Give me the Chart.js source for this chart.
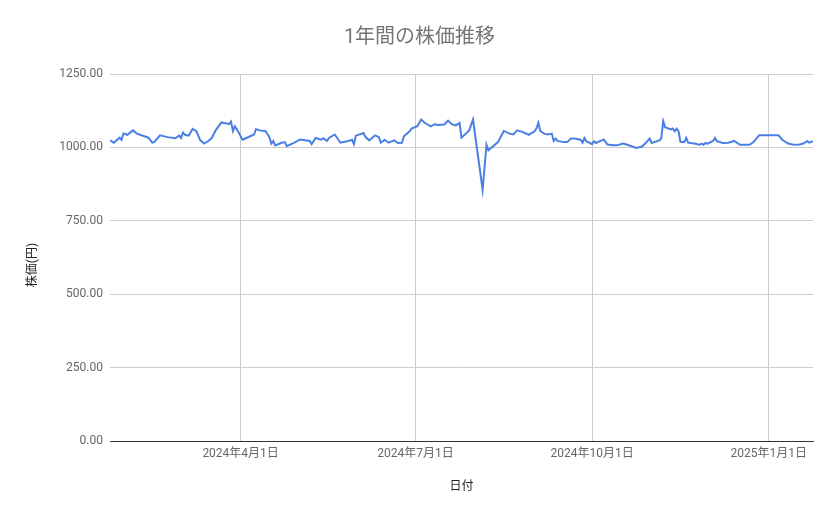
<!DOCTYPE html>
<html>
<head>
<meta charset="utf-8">
<script src="https://cdn.jsdelivr.net/npm/chart.js@4"></script>
<style>
  html, body { margin: 0; padding: 0; background: #fff; }
  #wrap { width: 839px; height: 519px; }
</style>
</head>
<body>
<div id="wrap"><canvas id="myChart"></canvas></div>
<script>
// data
const dates = [
  '2024-01-24', '2024-01-26', '2024-01-29', '2024-01-30', '2024-01-31', '2024-02-02', '2024-02-05', '2024-02-07',
  '2024-02-13', '2024-02-15', '2024-02-16', '2024-02-19', '2024-02-23', '2024-02-27', '2024-02-29', '2024-03-01',
  '2024-03-02', '2024-03-03', '2024-03-05', '2024-03-07', '2024-03-09', '2024-03-11', '2024-03-13', '2024-03-15',
  '2024-03-17', '2024-03-19', '2024-03-22', '2024-03-25', '2024-03-26', '2024-03-27', '2024-03-28', '2024-03-29',
  '2024-03-31', '2024-04-02', '2024-04-04', '2024-04-08', '2024-04-09', '2024-04-11', '2024-04-14', '2024-04-16',
  '2024-04-17', '2024-04-18', '2024-04-19', '2024-04-22', '2024-04-24', '2024-04-25', '2024-04-29', '2024-05-02',
  '2024-05-07', '2024-05-08', '2024-05-10', '2024-05-13', '2024-05-14', '2024-05-16', '2024-05-17', '2024-05-20',
  '2024-05-23', '2024-05-27', '2024-05-29', '2024-05-30', '2024-05-31', '2024-06-04', '2024-06-05', '2024-06-07',
  '2024-06-10', '2024-06-12', '2024-06-13', '2024-06-15', '2024-06-17', '2024-06-20', '2024-06-22', '2024-06-24',
  '2024-06-25', '2024-06-28', '2024-06-29', '2024-07-02', '2024-07-04', '2024-07-06', '2024-07-09', '2024-07-11',
  '2024-07-13', '2024-07-16', '2024-07-18', '2024-07-20', '2024-07-22', '2024-07-24', '2024-07-25', '2024-07-29',
  '2024-07-31', '2024-08-05', '2024-08-07', '2024-08-08', '2024-08-13', '2024-08-16', '2024-08-19', '2024-08-21',
  '2024-08-23', '2024-08-26', '2024-08-29', '2024-09-01', '2024-09-02', '2024-09-03', '2024-09-04', '2024-09-06',
  '2024-09-08', '2024-09-10', '2024-09-11', '2024-09-12', '2024-09-13', '2024-09-16', '2024-09-18', '2024-09-20',
  '2024-09-22', '2024-09-25', '2024-09-26', '2024-09-27', '2024-09-28', '2024-10-01', '2024-10-02', '2024-10-03',
  '2024-10-06', '2024-10-07', '2024-10-09', '2024-10-12', '2024-10-14', '2024-10-17', '2024-10-19', '2024-10-24',
  '2024-10-27', '2024-10-29', '2024-10-31', '2024-11-01', '2024-11-05', '2024-11-06', '2024-11-07', '2024-11-08',
  '2024-11-11', '2024-11-12', '2024-11-13', '2024-11-14', '2024-11-15', '2024-11-16', '2024-11-18', '2024-11-19',
  '2024-11-20', '2024-11-23', '2024-11-26', '2024-11-27', '2024-11-28', '2024-11-29', '2024-11-30', '2024-12-03',
  '2024-12-04', '2024-12-05', '2024-12-08', '2024-12-11', '2024-12-14', '2024-12-17', '2024-12-22', '2024-12-24',
  '2024-12-27', '2025-01-06', '2025-01-08', '2025-01-11', '2025-01-14', '2025-01-17', '2025-01-19', '2025-01-21',
  '2025-01-22', '2025-01-24'
];
const prices = [
  1024, 1016, 1033, 1026, 1047, 1043, 1058, 1047,
  1033, 1016, 1018, 1041, 1035, 1031, 1040, 1032,
  1051, 1043, 1040, 1063, 1055, 1024, 1013, 1021,
  1032, 1058, 1085, 1081, 1079, 1088, 1056, 1072,
  1051, 1026, 1032, 1044, 1062, 1058, 1055, 1035,
  1013, 1022, 1007, 1015, 1018, 1004, 1016, 1027,
  1022, 1011, 1032, 1026, 1031, 1022, 1032, 1044,
  1016, 1022, 1026, 1011, 1040, 1049, 1035, 1024,
  1041, 1035, 1016, 1026, 1016, 1024, 1015, 1016,
  1038, 1055, 1064, 1072, 1095, 1083, 1072, 1079,
  1076, 1078, 1091, 1079, 1075, 1083, 1033, 1058,
  1095, 855, 1009, 990, 1018, 1056, 1047, 1044,
  1058, 1052, 1043, 1055, 1064, 1084, 1056, 1047,
  1044, 1047, 1022, 1030, 1022, 1018, 1018, 1030,
  1030, 1026, 1016, 1032, 1021, 1011, 1021, 1015,
  1024, 1027, 1010, 1007, 1007, 1013, 1010, 998,
  1003, 1016, 1030, 1015, 1024, 1030, 1089, 1069,
  1061, 1064, 1055, 1064, 1055, 1018, 1018, 1032,
  1016, 1013, 1009, 1013, 1009, 1015, 1013, 1022,
  1032, 1021, 1015, 1016, 1022, 1009, 1009, 1018,
  1041, 1041, 1026, 1013, 1009, 1010, 1013, 1022,
  1016, 1021
];
const xTickDates = ['2024-04-01', '2024-07-01', '2024-10-01', '2025-01-01'];
const xTickLabels = ['2024年4月1日', '2024年7月1日', '2024年10月1日', '2025年1月1日'];
const yTicks = [0, 250, 500, 750, 1000, 1250];

const startDate = '2024-01-24';
const endDate = '2025-01-24';

// days from 2024-01-01
function dayNum(s) {
  return Math.round((Date.UTC(+s.slice(0, 4), +s.slice(5, 7) - 1, +s.slice(8, 10)) - Date.UTC(2024, 0, 1)) / 86400000);
}

const points = dates.map((d, i) => ({ x: dayNum(d), y: prices[i] }));
const tickDays = xTickDates.map(dayNum);

const fontFamily = "Roboto, 'Noto Sans CJK JP', sans-serif";
const ctx = document.getElementById('myChart');

new Chart(ctx, {
  type: 'line',
  data: {
    datasets: [{
      label: '株価',
      data: points,
      borderColor: '#4a80e4',
      borderWidth: 2,
      pointRadius: 0,
      tension: 0,
      fill: false
    }]
  },
  options: {
    responsive: true,
    maintainAspectRatio: false,
    animation: false,
    layout: { padding: 0 },
    plugins: {
      legend: { display: false },
      tooltip: { enabled: false },
      title: {
        display: true,
        text: '1年間の株価推移',
        color: '#757575',
        font: { family: fontFamily, size: 20, weight: 'normal' },
        padding: { top: 26, bottom: 24 }
      }
    },
    scales: {
      x: {
        type: 'linear',
        min: dayNum(startDate),
        max: dayNum(endDate),
        afterBuildTicks: (scale) => {
          scale.ticks = tickDays.map(v => ({ value: v }));
        },
        afterFit: (scale) => { scale.height = 78; },
        ticks: {
          autoSkip: false,
          maxRotation: 0,
          padding: 6,
          color: '#666',
          font: { family: fontFamily, size: 12 },
          callback: (value) => xTickLabels[tickDays.indexOf(value)]
        },
        grid: { color: '#cccccc', drawTicks: false },
        border: { display: true, color: '#333', width: 1 },
        title: {
          display: true,
          text: '日付',
          color: '#222',
          font: { family: fontFamily, size: 12 },
          padding: { top: 0, bottom: 25 }
        }
      },
      y: {
        min: 0,
        max: 1250,
        afterBuildTicks: (scale) => {
          scale.ticks = yTicks.map(v => ({ value: v }));
        },
        afterFit: (scale) => { scale.width = 110; },
        ticks: {
          padding: 7,
          color: '#666',
          font: { family: fontFamily, size: 12 },
          callback: (value) => value.toFixed(2)
        },
        grid: { color: '#cccccc', drawTicks: false },
        border: { display: false },
        title: {
          display: true,
          // trailing spaces nudge the label a little lower, like the original
          text: '株価(円)\u3000 ',
          color: '#222',
          font: { family: fontFamily, size: 12 },
          padding: { top: 26, bottom: 0 }
        }
      },
      // empty right-hand margin so the title stays centred on the page
      yRight: {
        position: 'right',
        min: 0,
        max: 1250,
        afterFit: (scale) => { scale.width = 26; },
        ticks: { display: false },
        grid: { display: false },
        border: { display: false }
      }
    }
  }
});
</script>
</body>
</html>
